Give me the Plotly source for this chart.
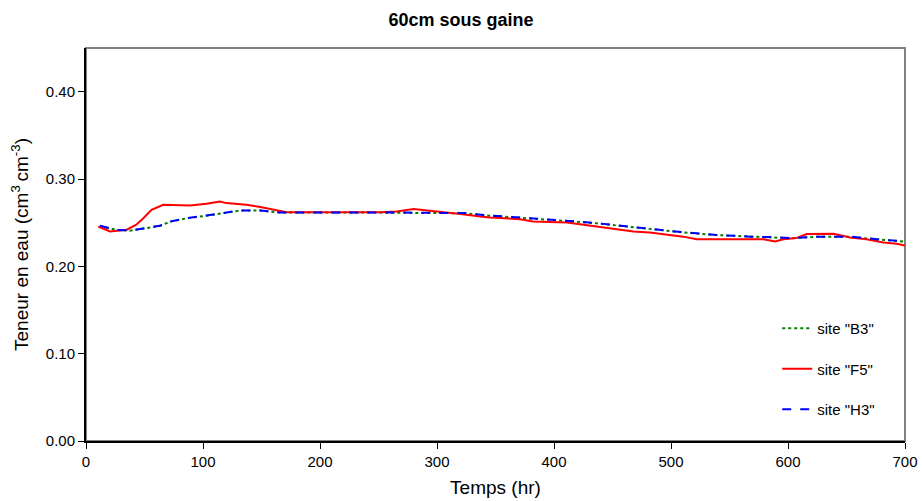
import plotly.graph_objects as go

# site "F5" (red, solid)
t_f5 = [10.5, 20.5, 34.8, 43, 49, 56, 66, 89, 103, 114.5, 120, 137, 149, 160, 171.5, 251,
        265.5, 280, 291, 308, 320, 337, 345, 371, 382, 411, 422, 442, 453.6, 468, 482,
        499, 510.5, 522, 562, 579, 589, 596, 607, 616, 639, 653, 667, 681.5, 693, 700]
y_f5 = [0.2456, 0.240, 0.242, 0.2476, 0.255, 0.2648, 0.2705, 0.2697, 0.2716, 0.2743, 0.2724,
        0.2705, 0.268, 0.2648, 0.262, 0.262, 0.2628, 0.2655, 0.264, 0.262, 0.2598, 0.257,
        0.256, 0.254, 0.2514, 0.2502, 0.2483, 0.2445, 0.2426, 0.240, 0.2388, 0.236, 0.234,
        0.231, 0.231, 0.231, 0.2285, 0.231, 0.2323, 0.2369, 0.2372, 0.233, 0.231, 0.2273,
        0.2258, 0.2238]

# site "H3" (blue, dashed)
t_h3 = [12, 26, 37.6, 52, 63, 72, 86, 103, 120, 131.6, 149, 166, 251, 322.5, 345, 371, 388,
        419, 436.5, 462, 479, 493, 510.5, 539, 567.5, 587, 602, 624.5, 653, 676, 700]
y_h3 = [0.2464, 0.2418, 0.241, 0.2438, 0.2464, 0.2514, 0.2552, 0.2582, 0.2617, 0.264, 0.264,
        0.2617, 0.2617, 0.261, 0.2582, 0.256, 0.2544, 0.2514, 0.2494, 0.2456, 0.243, 0.241,
        0.239, 0.236, 0.234, 0.2335, 0.2323, 0.234, 0.234, 0.231, 0.2285]

# site "B3" (green, dotted) - almost hidden under H3
t_b3 = [12, 26, 37.6, 52, 63, 72, 86, 103, 120, 131.6, 149, 166, 251, 322.5, 345, 371, 388,
        419, 436.5, 462, 479, 493, 510.5, 539, 567.5, 587, 602, 624.5, 653, 676, 700]
y_b3 = [0.2462, 0.2416, 0.2408, 0.2436, 0.2462, 0.2512, 0.2550, 0.2580, 0.2615, 0.2638, 0.2638,
        0.2615, 0.2615, 0.2608, 0.2580, 0.2558, 0.2542, 0.2512, 0.2492, 0.2454, 0.2428, 0.2408,
        0.2388, 0.2358, 0.2338, 0.2333, 0.2321, 0.2338, 0.2338, 0.2308, 0.2283]

font = "Liberation Sans, Arial, sans-serif"

fig = go.Figure()
fig.add_trace(go.Scatter(x=t_b3, y=y_b3, mode="lines", name='site "B3"',
                         legendgroup="b3", line=dict(color="#008000", width=2, dash="dot")))
fig.add_trace(go.Scatter(x=t_f5, y=y_f5, mode="lines", name='site "F5"',
                         legendgroup="f5", line=dict(color="#FF0000", width=2)))
fig.add_trace(go.Scatter(x=t_h3, y=y_h3, mode="lines", name='site "H3"',
                         legendgroup="h3", line=dict(color="#0000FF", width=2, dash="dash")))

fig.update_layout(
    width=922, height=501,
    margin=dict(l=86, r=17, t=48, b=60),
    paper_bgcolor="white", plot_bgcolor="white",
    font=dict(family=font, color="black", size=15),
    title=dict(text="<b>60cm sous gaine</b>", x=0.5, xref="container", y=0.96,
               yanchor="middle", font=dict(size=18)),
    showlegend=True,
    legend=dict(x=0.844, y=0.328, xanchor="left", yanchor="top",
                bgcolor="rgba(0,0,0,0)", font=dict(size=15),
                traceorder="grouped", tracegroupgap=18),
    shapes=[dict(type="rect", xref="paper", yref="paper", x0=0, x1=1, y0=0, y1=1,
                 line=dict(color="#808080", width=2), layer="below")],
)

fig.update_xaxes(
    range=[0, 700], tickvals=[0, 100, 200, 300, 400, 500, 600, 700],
    ticks="outside", ticklen=6, tickcolor="black", showgrid=False, zeroline=False,
    showline=True, linecolor="black", linewidth=2, automargin=False,
    ticklabeloverflow="allow",
    title=dict(text="Temps (hr)", font=dict(size=19), standoff=12),
    tickfont=dict(size=15),
)
fig.update_yaxes(
    range=[0, 0.45], tickvals=[0, 0.1, 0.2, 0.3, 0.4], tickformat=".2f",
    ticks="outside", ticklen=6, tickcolor="black", showgrid=False, zeroline=False,
    showline=True, linecolor="black", linewidth=2, automargin=False,
    title=dict(text="Teneur en eau (cm<sup>3 </sup>cm<sup>-3</sup>)", font=dict(size=19), standoff=12),
    tickfont=dict(size=15),
)

# drop the default page margin so the figure fills the window exactly
fig.write_html("out.html", config={"displayModeBar": False},
               post_script="document.body.style.margin = '0';")
